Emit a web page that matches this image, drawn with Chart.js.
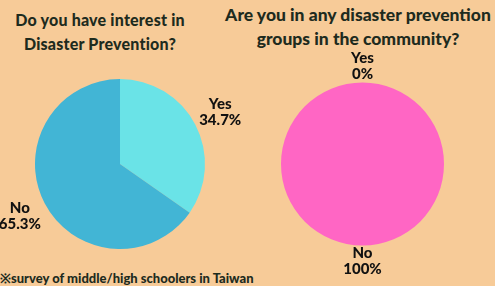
<!DOCTYPE html>
<html>
<head>
<meta charset="utf-8">
<script src="https://cdn.jsdelivr.net/npm/chart.js@4"></script>
<style>
  html, body { margin: 0; padding: 0; }
  body { width: 495px; height: 286px; background: #F7CB98; position: relative; overflow: hidden;
         font-family: Lato, "Open Sans", sans-serif; color: #1E2B1E; }
  .title { position: absolute; font-weight: 900; font-size: 16px; line-height: 24px; text-align: center; white-space: nowrap; }
  .foot { position: absolute; left: 0; top: 269px; font-weight: 900; font-size: 13px; white-space: nowrap; }
  canvas { position: absolute; }
</style>
</head>
<body>
<div class="title" style="left:0; width:200px; top:8px; letter-spacing:0.2px;">Do you have interest in<br>Disaster Prevention?</div>
<div class="title" style="left:220px; width:276px; top:3px; font-size:17.5px;">Are you in any disaster prevention<br>groups in the community?</div>
<div class="foot">※survey of middle/high schoolers in Taiwan</div>
<div style="position:absolute;left:0;top:60px;width:250px;height:210px;"><canvas id="interestChart"></canvas></div>
<div style="position:absolute;left:250px;top:40px;width:245px;height:246px;"><canvas id="groupChart"></canvas></div>
<script>
const categories = ['Yes', 'No'];
const interestValues = [34.7, 65.3];
const groupValues = [0, 100];
const interestColors = ['#6AE3E7', '#42B5D5'];
const groupColors = ['#6AE3E7', '#FF66C4'];

// draws "Yes / 34.7%" outside each slice
const outsideLabels = {
    id: 'outsideLabels',
    afterDatasetsDraw(chart, args, opts) {
        const c = chart.ctx;
        const values = chart.data.datasets[0].data;
        chart.getDatasetMeta(0).data.forEach((arc, i) => {
            const p = arc.getProps(['x', 'y', 'startAngle', 'endAngle', 'outerRadius'], true);
            const mid = (p.startAngle + p.endAngle) / 2;
            const d = p.outerRadius + opts.pad;
            const x = p.x + Math.cos(mid) * d;
            const y = p.y + Math.sin(mid) * d;
            c.save();
            c.fillStyle = '#111';
            c.font = '900 15px Lato';
            c.textAlign = 'center';
            c.textBaseline = 'middle';
            c.fillText(chart.data.labels[i], x, y - 8);
            c.fillText(values[i] + '%', x, y + 8);
            c.restore();
        });
    }
};

function makePie(id, values, colors, padding, pad) {
    return new Chart(document.getElementById(id), {
        type: 'pie',
        data: {
            labels: categories,
            datasets: [{ data: values, backgroundColor: colors, borderWidth: 0 }]
        },
        options: {
            responsive: true,
            maintainAspectRatio: false,
            animation: false,
            layout: { padding: padding },
            plugins: {
                legend: { display: false },
                tooltip: { enabled: false },
                outsideLabels: { pad: pad }
            }
        },
        plugins: [outsideLabels]
    });
}

makePie('interestChart', interestValues, interestColors, { left: 35, right: 45, top: 19, bottom: 21 }, 28);
makePie('groupChart', groupValues, groupColors, { left: 31, right: 51, top: 42, bottom: 40 }, 16);
</script>
</body>
</html>
